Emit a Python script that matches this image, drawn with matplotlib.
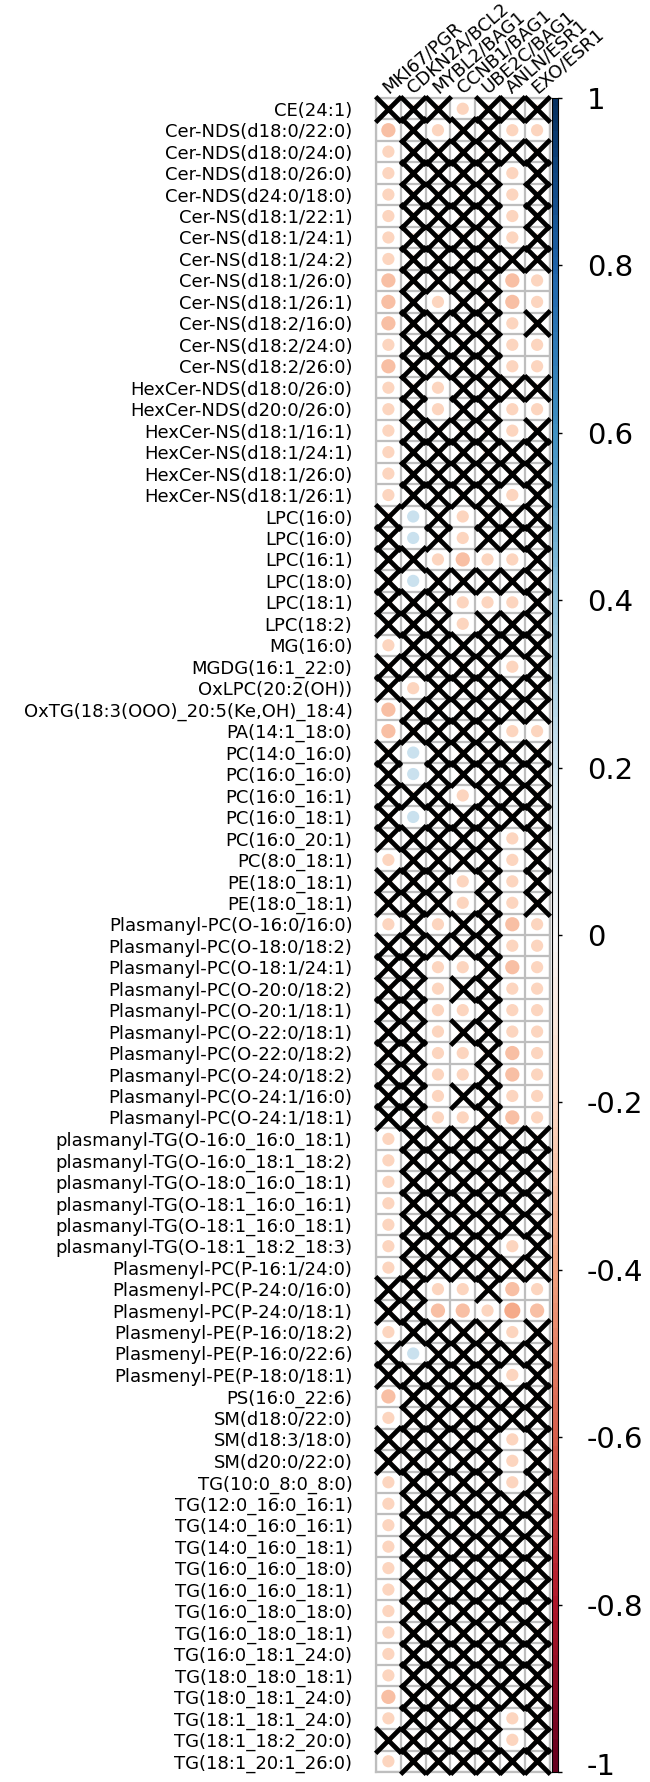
import numpy as np
import matplotlib.pyplot as plt
import matplotlib.colors as mcolors
import matplotlib.transforms as mtransforms

lipids = [
    "CE(24:1)",
    "Cer-NDS(d18:0/22:0)", "Cer-NDS(d18:0/24:0)", "Cer-NDS(d18:0/26:0)", "Cer-NDS(d24:0/18:0)",
    "Cer-NS(d18:1/22:1)", "Cer-NS(d18:1/24:1)", "Cer-NS(d18:1/24:2)", "Cer-NS(d18:1/26:0)",
    "Cer-NS(d18:1/26:1)", "Cer-NS(d18:2/16:0)", "Cer-NS(d18:2/24:0)", "Cer-NS(d18:2/26:0)",
    "HexCer-NDS(d18:0/26:0)", "HexCer-NDS(d20:0/26:0)",
    "HexCer-NS(d18:1/16:1)", "HexCer-NS(d18:1/24:1)", "HexCer-NS(d18:1/26:0)", "HexCer-NS(d18:1/26:1)",
    "LPC(16:0)", "LPC(16:0)", "LPC(16:1)", "LPC(18:0)", "LPC(18:1)", "LPC(18:2)",
    "MG(16:0)", "MGDG(16:1_22:0)", "OxLPC(20:2(OH))", "OxTG(18:3(OOO)_20:5(Ke,OH)_18:4)",
    "PA(14:1_18:0)",
    "PC(14:0_16:0)", "PC(16:0_16:0)", "PC(16:0_16:1)", "PC(16:0_18:1)", "PC(16:0_20:1)", "PC(8:0_18:1)",
    "PE(18:0_18:1)", "PE(18:0_18:1)",
    "Plasmanyl-PC(O-16:0/16:0)", "Plasmanyl-PC(O-18:0/18:2)", "Plasmanyl-PC(O-18:1/24:1)",
    "Plasmanyl-PC(O-20:0/18:2)", "Plasmanyl-PC(O-20:1/18:1)", "Plasmanyl-PC(O-22:0/18:1)",
    "Plasmanyl-PC(O-22:0/18:2)", "Plasmanyl-PC(O-24:0/18:2)", "Plasmanyl-PC(O-24:1/16:0)",
    "Plasmanyl-PC(O-24:1/18:1)",
    "plasmanyl-TG(O-16:0_16:0_18:1)", "plasmanyl-TG(O-16:0_18:1_18:2)", "plasmanyl-TG(O-18:0_16:0_18:1)",
    "plasmanyl-TG(O-18:1_16:0_16:1)", "plasmanyl-TG(O-18:1_16:0_18:1)", "plasmanyl-TG(O-18:1_18:2_18:3)",
    "Plasmenyl-PC(P-16:1/24:0)", "Plasmenyl-PC(P-24:0/16:0)", "Plasmenyl-PC(P-24:0/18:1)",
    "Plasmenyl-PE(P-16:0/18:2)", "Plasmenyl-PE(P-16:0/22:6)", "Plasmenyl-PE(P-18:0/18:1)",
    "PS(16:0_22:6)", "SM(d18:0/22:0)", "SM(d18:3/18:0)", "SM(d20:0/22:0)",
    "TG(10:0_8:0_8:0)", "TG(12:0_16:0_16:1)", "TG(14:0_16:0_16:1)", "TG(14:0_16:0_18:1)",
    "TG(16:0_16:0_18:0)", "TG(16:0_16:0_18:1)", "TG(16:0_18:0_18:0)", "TG(16:0_18:0_18:1)",
    "TG(16:0_18:1_24:0)", "TG(18:0_18:0_18:1)", "TG(18:0_18:1_24:0)", "TG(18:1_18:1_24:0)",
    "TG(18:1_18:2_20:0)", "TG(18:1_20:1_26:0)",
]

ratios = ["MKI67/PGR", "CDKN2A/BCL2", "MYBL2/BAG1", "CCNB1/BAG1", "UBE2C/BAG1", "ANLN/ESR1", "EXO/ESR1"]

# one string per lipid, one character per ratio
# x = not significant (crossed), 2/3/4 = negative r of about -0.2/-0.3/-0.4, b = weak positive r
cells = [
    "xxx2xxx",
    "3x2xx22", "2xxxxxx", "2xxxx2x", "2xxxx2x",
    "2xxxx2x", "2xxxx2x", "2xxxxxx", "3xxxx32",
    "3x2xx32", "3xxxx2x", "2xxxx22", "3xxxx22",
    "2x2xxxx", "2x2xx22",
    "2xxxx2x", "2xxxxxx", "2xxxxxx", "2xxxx2x",
    "xbx2xxx", "xbx2xxx", "xx2322x", "xbxxxxx", "xxx222x", "xxx2xxx",
    "2xxxxxx", "xxxxx2x", "x2xxxxx", "3xxxxxx",
    "3xxxx22",
    "xbxxxxx", "xbxxxxx", "xxx2xxx", "xbxxxxx", "xxxxx2x", "2xxxx2x",
    "xxx2x2x", "xxx2x2x",
    "2x2xx32", "xxxxx22", "xx22x32",
    "xx2xx22", "xx22x22", "xx2xx22",
    "xx22x32", "xx22x32", "xx2xx22",
    "xx22x32",
    "2xxxxxx", "2xxxxxx", "2xxxxxx",
    "2xxxxxx", "2xxxxxx", "2xxxx2x",
    "2xxxxxx", "xx22x32", "xx33243",
    "2xxxx2x", "xbxxxxx", "xxxxx2x",
    "3xxxxxx", "2xxxxxx", "xxxxx2x", "xxxxx2x",
    "2xxxx2x", "2xxxxxx", "2xxxxxx", "2xxxxxx",
    "2xxxxxx", "2xxxxxx", "2xxxxxx", "2xxxxxx",
    "2xxxxxx", "2xxxxxx", "3xxxxxx", "2xxxx2x",
    "xxxxx2x", "2xxxxxx",
]

code_value = {"x": -0.12, "2": -0.22, "3": -0.3, "4": -0.38, "b": 0.22}

cbar_ticks = [1, 0.8, 0.6, 0.4, 0.2, 0, -0.2, -0.4, -0.6, -0.8, -1]

corr = np.array([[code_value[c] for c in row] for row in cells])
insig = np.array([[c == "x" for c in row] for row in cells])

W, H = 650, 1782
fig = plt.figure(figsize=(W / 100, H / 100), dpi=100)


def px_axes(left, top, right, bottom):
    return fig.add_axes([left / W, 1 - bottom / H, (right - left) / W, (bottom - top) / H])


cmap = plt.get_cmap("RdBu")
norm = mcolors.Normalize(-1, 1)
grid_col = "#BEBEBE"

ax = px_axes(376, 98, 549.5, 1772)
n_rows, n_cols = corr.shape
ax.set_xlim(-0.5, n_cols - 0.5)
ax.set_ylim(n_rows - 0.5, -0.5)

for k in np.arange(-0.5, n_cols):
    ax.axvline(k, color=grid_col, lw=1.6, zorder=1)
for k in np.arange(-0.5, n_rows):
    ax.axhline(k, color=grid_col, lw=1.6, zorder=1)
for sp in ax.spines.values():
    sp.set_color(grid_col)
    sp.set_linewidth(1.6)

rows, cols = np.indices(corr.shape)
diam_pt = 26 * np.sqrt(np.abs(corr)) / 1.389
ax.scatter(cols.ravel(), rows.ravel(), s=diam_pt.ravel() ** 2, c=corr.ravel(),
           cmap=cmap, norm=norm, edgecolors="none", zorder=2)
ax.scatter(cols[insig], rows[insig], marker="x", s=18.5 ** 2, linewidths=3.4,
           color="black", zorder=3, clip_on=False)

ax.set_xticks([])
ax.set_yticks(range(n_rows))
ax.set_yticklabels(lipids, fontsize=13)
ax.tick_params(axis="y", length=0, pad=17)

for j, name in enumerate(ratios):
    ax.text(j, -0.5 - 4 / 21.46, name, rotation=41, rotation_mode="anchor",
            ha="left", va="baseline", fontsize=13, clip_on=False)

# colour legend
cax = px_axes(552, 98, 558, 1772)
grad = np.linspace(1, -1, 200)[:, None]
cax.imshow(grad, aspect="auto", cmap=cmap, norm=norm, extent=[0, 1, -1, 1])
cax.set_ylim(-1, 1)
cax.set_xticks([])
cax.yaxis.tick_right()
cax.set_yticks(cbar_ticks)
cax.set_yticklabels([])
cax.tick_params(axis="y", length=3, width=1)
for sp in cax.spines.values():
    sp.set_linewidth(0.8)

label_tf = mtransforms.offset_copy(cax.get_yaxis_transform(), fig=fig, x=29, y=0, units="dots")
for t in cbar_ticks:
    if t == cbar_ticks[-1]:
        cax.text(1, t, "%g" % t, transform=mtransforms.offset_copy(
            cax.get_yaxis_transform(), fig=fig, x=29, y=-3, units="dots"),
            ha="left", va="baseline", fontsize=21)
    else:
        cax.text(1, t, "%g" % t, transform=label_tf, ha="left", va="center_baseline", fontsize=21)

fig.savefig("out.png", dpi=100)
